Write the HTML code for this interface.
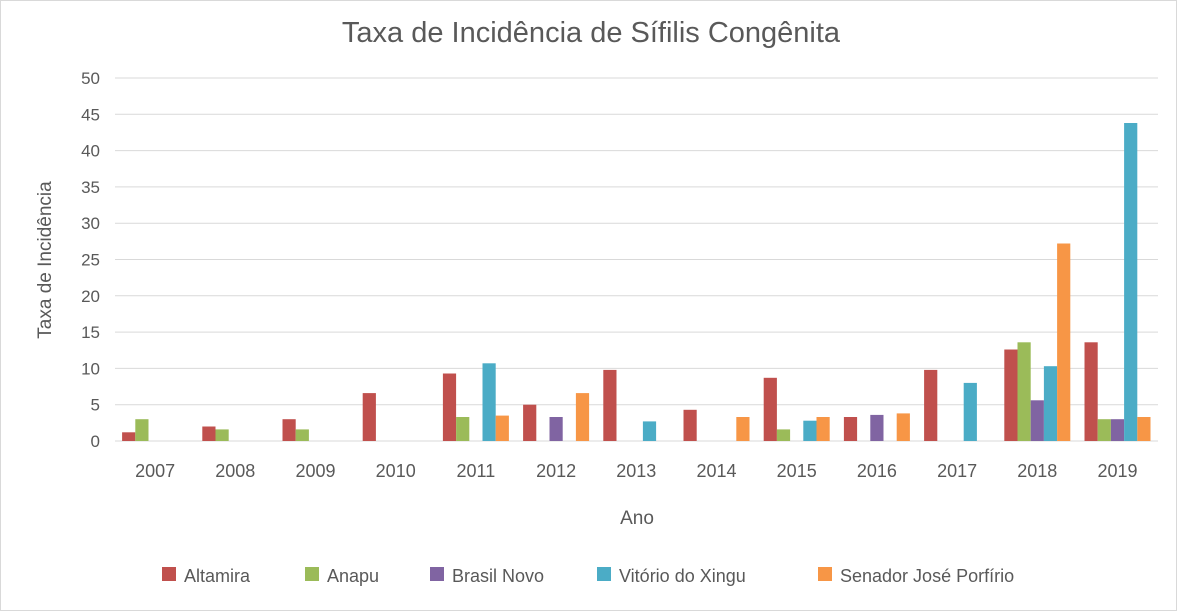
<!DOCTYPE html><html><head><meta charset="utf-8"><style>body{margin:0;background:#fff}svg text{font-family:"Liberation Sans","DejaVu Sans",sans-serif;fill:#595959}</style></head><body>
<svg width="1177" height="611" xmlns="http://www.w3.org/2000/svg">
<rect x="0.5" y="0.5" width="1176" height="610" fill="#fff" stroke="#d9d9d9"/>
<text x="591" y="42" font-size="29" text-anchor="middle">Taxa de Incidência de Sífilis Congênita</text>
<g stroke="#d9d9d9">
<line x1="115" x2="1158" y1="441" y2="441"/><line x1="115" x2="1158" y1="404.7" y2="404.7"/><line x1="115" x2="1158" y1="368.4" y2="368.4"/><line x1="115" x2="1158" y1="332.1" y2="332.1"/><line x1="115" x2="1158" y1="295.8" y2="295.8"/><line x1="115" x2="1158" y1="259.5" y2="259.5"/><line x1="115" x2="1158" y1="223.2" y2="223.2"/><line x1="115" x2="1158" y1="186.9" y2="186.9"/><line x1="115" x2="1158" y1="150.6" y2="150.6"/><line x1="115" x2="1158" y1="114.3" y2="114.3"/><line x1="115" x2="1158" y1="78" y2="78"/>
</g>
<g font-size="17" text-anchor="end">
<text x="100" y="447">0</text><text x="100" y="410.7">5</text><text x="100" y="374.4">10</text><text x="100" y="338.1">15</text><text x="100" y="301.8">20</text><text x="100" y="265.5">25</text><text x="100" y="229.2">30</text><text x="100" y="192.9">35</text><text x="100" y="156.6">40</text><text x="100" y="120.3">45</text><text x="100" y="84">50</text>
</g>
<g transform="translate(0,441) scale(1,-1)">
<rect x="122.1" y="0" width="13.2" height="8.7" fill="#c0504d"/><rect x="135.3" y="0" width="13.2" height="21.8" fill="#9bbb59"/>
<rect x="202.3" y="0" width="13.2" height="14.5" fill="#c0504d"/><rect x="215.5" y="0" width="13.2" height="11.6" fill="#9bbb59"/>
<rect x="282.5" y="0" width="13.2" height="21.8" fill="#c0504d"/><rect x="295.7" y="0" width="13.2" height="11.6" fill="#9bbb59"/>
<rect x="362.7" y="0" width="13.2" height="47.9" fill="#c0504d"/>
<rect x="442.9" y="0" width="13.2" height="67.5" fill="#c0504d"/><rect x="456.1" y="0" width="13.2" height="24" fill="#9bbb59"/><rect x="482.5" y="0" width="13.2" height="77.7" fill="#4bacc6"/><rect x="495.7" y="0" width="13.2" height="25.4" fill="#f79646"/>
<rect x="523.1" y="0" width="13.2" height="36.3" fill="#c0504d"/><rect x="549.5" y="0" width="13.2" height="24" fill="#8064a2"/><rect x="575.9" y="0" width="13.2" height="47.9" fill="#f79646"/>
<rect x="603.3" y="0" width="13.2" height="71.1" fill="#c0504d"/><rect x="642.9" y="0" width="13.2" height="19.6" fill="#4bacc6"/>
<rect x="683.5" y="0" width="13.2" height="31.2" fill="#c0504d"/><rect x="736.3" y="0" width="13.2" height="24" fill="#f79646"/>
<rect x="763.7" y="0" width="13.2" height="63.2" fill="#c0504d"/><rect x="776.9" y="0" width="13.2" height="11.6" fill="#9bbb59"/><rect x="803.3" y="0" width="13.2" height="20.3" fill="#4bacc6"/><rect x="816.5" y="0" width="13.2" height="24" fill="#f79646"/>
<rect x="843.9" y="0" width="13.2" height="24" fill="#c0504d"/><rect x="870.3" y="0" width="13.2" height="26.1" fill="#8064a2"/><rect x="896.7" y="0" width="13.2" height="27.6" fill="#f79646"/>
<rect x="924.1" y="0" width="13.2" height="71.1" fill="#c0504d"/><rect x="963.7" y="0" width="13.2" height="58.1" fill="#4bacc6"/>
<rect x="1004.3" y="0" width="13.2" height="91.5" fill="#c0504d"/><rect x="1017.5" y="0" width="13.2" height="98.7" fill="#9bbb59"/><rect x="1030.7" y="0" width="13.2" height="40.7" fill="#8064a2"/><rect x="1043.9" y="0" width="13.2" height="74.8" fill="#4bacc6"/><rect x="1057.1" y="0" width="13.2" height="197.5" fill="#f79646"/>
<rect x="1084.5" y="0" width="13.2" height="98.7" fill="#c0504d"/><rect x="1097.7" y="0" width="13.2" height="21.8" fill="#9bbb59"/><rect x="1110.9" y="0" width="13.2" height="21.8" fill="#8064a2"/><rect x="1124.1" y="0" width="13.2" height="318" fill="#4bacc6"/><rect x="1137.3" y="0" width="13.2" height="24" fill="#f79646"/>
</g>
<g font-size="18" text-anchor="middle">
<text x="155.1" y="477">2007</text><text x="235.3" y="477">2008</text><text x="315.5" y="477">2009</text><text x="395.7" y="477">2010</text><text x="475.9" y="477">2011</text><text x="556.1" y="477">2012</text><text x="636.3" y="477">2013</text><text x="716.5" y="477">2014</text><text x="796.7" y="477">2015</text><text x="876.9" y="477">2016</text><text x="957.1" y="477">2017</text><text x="1037.3" y="477">2018</text><text x="1117.5" y="477">2019</text>
</g>
<text x="51" y="260" font-size="19" text-anchor="middle" transform="rotate(-90 51 260)">Taxa de Incidência</text>
<text x="637" y="524" font-size="19" text-anchor="middle">Ano</text>
<g font-size="18">
<rect x="162" y="567" width="14" height="14" fill="#c0504d"/><text x="184" y="582">Altamira</text>
<rect x="305" y="567" width="14" height="14" fill="#9bbb59"/><text x="327" y="582">Anapu</text>
<rect x="430" y="567" width="14" height="14" fill="#8064a2"/><text x="452" y="582">Brasil Novo</text>
<rect x="597" y="567" width="14" height="14" fill="#4bacc6"/><text x="619" y="582">Vitório do Xingu</text>
<rect x="818" y="567" width="14" height="14" fill="#f79646"/><text x="840" y="582">Senador José Porfírio</text>
</g>
</svg></body></html>
